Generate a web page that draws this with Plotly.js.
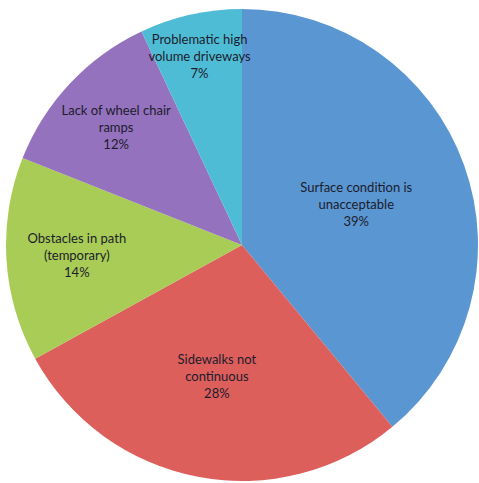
<!DOCTYPE html>
<html>
<head>
<meta charset="utf-8">
<script src="https://cdn.plot.ly/plotly-3.0.1.min.js"></script>
<style>html,body{margin:0;padding:0;background:#fff;}#chart{width:479px;height:483px;}</style>
</head>
<body>
<div id="chart"></div>
<script>
var categories = [
  "Surface condition is<br>unacceptable",
  "Sidewalks not<br>continuous",
  "Obstacles in path<br>(temporary)",
  "Lack of wheel chair<br>ramps",
  "Problematic high<br>volume driveways"
];
var values = [39, 28, 14, 12, 7];
var colors = ["#5a96d2", "#dc5f5c", "#a8cc55", "#9472be", "#4fbcd6"];

Plotly.newPlot("chart", [{
  type: "pie",
  labels: categories,
  values: values,
  sort: false,
  direction: "clockwise",
  rotation: 0,
  marker: {colors: colors, line: {width: 0}},
  textinfo: "label+percent",
  texttemplate: "%{label}<br>%{percent:.0%}",
  textposition: "inside",
  insidetextorientation: "horizontal",
  textfont: {family: "Lato, 'Open Sans', sans-serif", size: 13, color: "#1c1c2c"},
  hoverinfo: "none",
  showlegend: false
}], {
  width: 479, height: 483,
  margin: {l: 6, r: 1, t: 8, b: 1},
  paper_bgcolor: "#ffffff",
  showlegend: false,
  uniformtext: {mode: "show", minsize: 13}
}, {staticPlot: true, displayModeBar: false});
</script>
</body>
</html>
